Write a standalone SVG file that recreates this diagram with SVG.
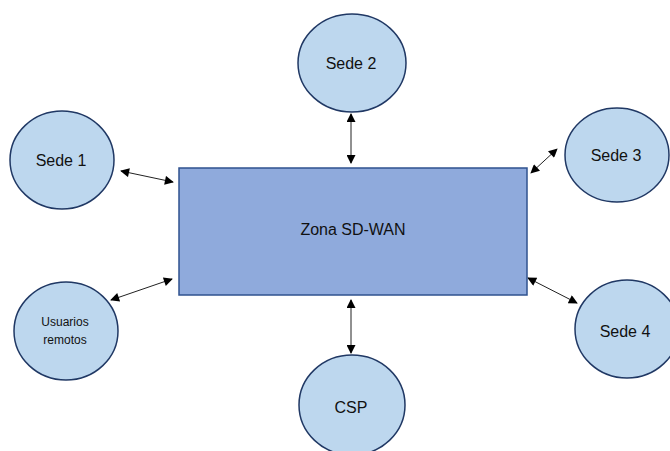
<svg xmlns="http://www.w3.org/2000/svg" width="670" height="451" viewBox="0 0 670 451">
  <style>
    .site { fill: #BDD7EE; stroke: #203864; stroke-width: 1.5; }
    .zone { fill: #8FAADC; stroke: #2F528F; stroke-width: 1.5; }
    .lbl { font-family: "Liberation Sans", Arial, sans-serif; font-size: 16px; fill: #111; text-anchor: middle; }
    .small { font-size: 12px; }
    .link { stroke: #222; stroke-width: 1; fill: none; marker-start: url(#tip); marker-end: url(#tip); }
  </style>
  <defs>
    <marker id="tip" viewBox="0 0 10 10" refX="9" refY="5" markerWidth="11" markerHeight="9" markerUnits="userSpaceOnUse" orient="auto-start-reverse">
      <path d="M0,0 L10,5 L0,10 Z" fill="#000"/>
    </marker>
  </defs>
  <rect width="670" height="451" fill="#fff"/>

  <g id="connectors">
    <line class="link" x1="121" y1="171" x2="173" y2="182"/>
    <line class="link" x1="111" y1="300" x2="172" y2="279"/>
    <line class="link" x1="351" y1="114" x2="351" y2="163"/>
    <line class="link" x1="531" y1="173" x2="557" y2="149"/>
    <line class="link" x1="528" y1="278" x2="577" y2="303"/>
    <line class="link" x1="351" y1="300" x2="351" y2="353"/>
  </g>

  <g id="zona">
    <rect class="zone" x="179" y="168" width="348" height="127"/>
    <text class="lbl" x="353" y="235">Zona SD-WAN</text>
  </g>

  <g id="sede1">
    <ellipse class="site" cx="62" cy="160" rx="52" ry="49"/>
    <text class="lbl" x="61" y="166">Sede 1</text>
  </g>

  <g id="usuarios">
    <ellipse class="site" cx="66" cy="331" rx="52" ry="49"/>
    <text class="lbl small" x="65" y="326">Usuarios</text>
    <text class="lbl small" x="65" y="344">remotos</text>
  </g>

  <g id="sede2">
    <ellipse class="site" cx="352" cy="63" rx="54" ry="49"/>
    <text class="lbl" x="351" y="69">Sede 2</text>
  </g>

  <g id="sede3">
    <ellipse class="site" cx="617" cy="155" rx="52" ry="47"/>
    <text class="lbl" x="616" y="161">Sede 3</text>
  </g>

  <g id="sede4">
    <ellipse class="site" cx="627" cy="329" rx="52" ry="49"/>
    <text class="lbl" x="625" y="337">Sede 4</text>
  </g>

  <g id="csp">
    <ellipse class="site" cx="352" cy="405" rx="53" ry="50"/>
    <text class="lbl" x="351" y="413">CSP</text>
  </g>
</svg>
